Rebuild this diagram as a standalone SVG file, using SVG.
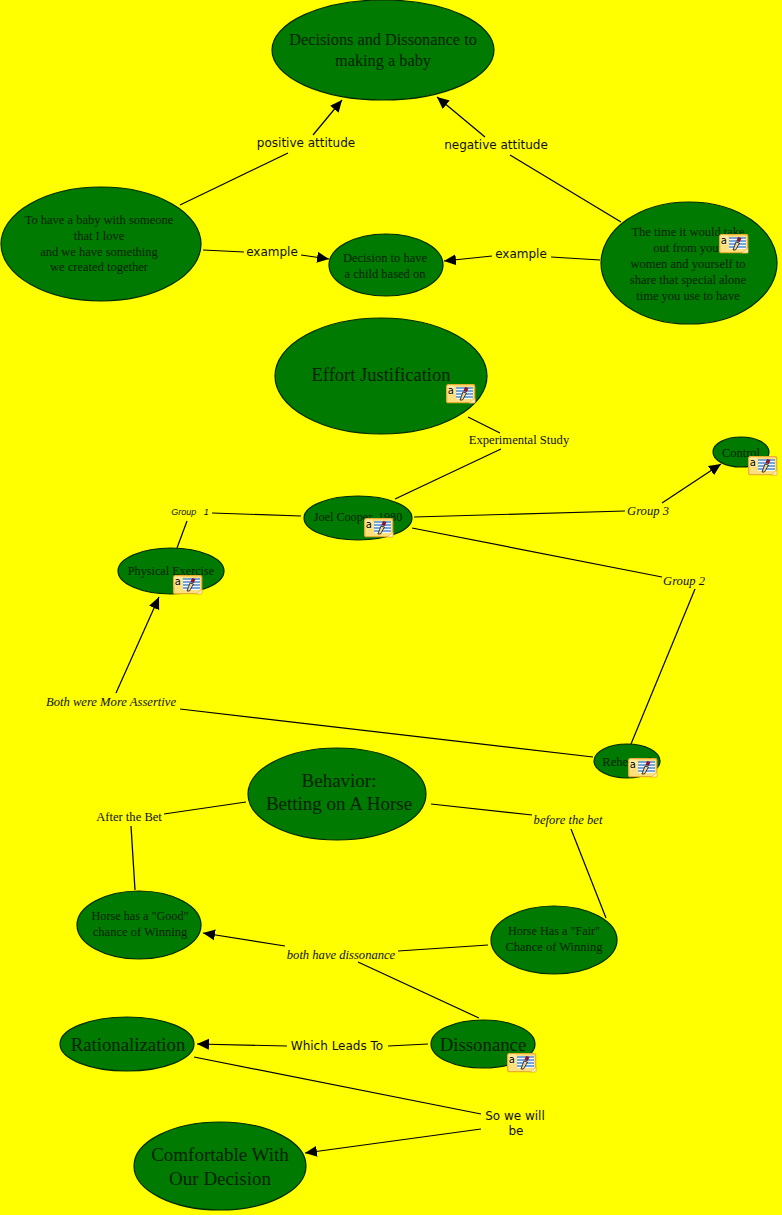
<svg xmlns="http://www.w3.org/2000/svg" width="782" height="1215" viewBox="0 0 782 1215">
<style>
.n{fill:#007a00;stroke:#002a00;stroke-width:1.200}
.t{font-family:"Liberation Serif","DejaVu Serif",serif;fill:#002200;text-anchor:middle}
.l{font-family:"DejaVu Sans",sans-serif;font-size:12px;fill:#111;text-anchor:middle}
.s{font-family:"Liberation Serif",serif;font-size:12.600px;fill:#111;text-anchor:middle}
.i{font-style:italic}
.a{font-family:"Liberation Sans",sans-serif;font-size:9px;font-style:italic;fill:#111;text-anchor:middle;white-space:pre}
.c line{stroke:#000;stroke-width:1.200}
.ar{stroke:#000;stroke-width:1.200;fill:none;marker-end:url(#ah)}
</style>
<defs>
<marker id="ah" markerUnits="userSpaceOnUse" markerWidth="13" markerHeight="12" refX="12" refY="6" orient="auto"><path d="M0 0.500L12 6L0 11.500z" fill="#000"/></marker>
<g id="ic">
<rect x="0.700" y="0.700" width="28" height="18" rx="1.500" fill="#ffe07c" stroke="#e8ae30" stroke-width="1.300"/>
<path d="M23 19L29 19L29 14z" fill="#fff4c8" stroke="#e8ae30" stroke-width=".7"/>
<rect x="1.500" y="1.500" width="7.500" height="9" fill="#ffe9a0"/>
<text x="4.800" y="9.500" font-family="DejaVu Sans,sans-serif" font-size="10" fill="#000" text-anchor="middle">a</text>
<rect x="10" y="3" width="17" height="12" fill="#f4f8ff"/>
<path d="M10 4H27M10 7H27M10 10H27M10 13H27" stroke="#4d8ccc" stroke-width="1.300"/>
<path d="M14 16L17 8L20.500 9L16.500 16z" fill="#f0d8a0" stroke="#111" stroke-width=".8"/>
<path d="M17.500 7L19 3L22.500 4L20.800 8z" fill="#8a1530"/>
</g>
</defs>
<rect width="782" height="1215" fill="#ffff00"/>
<g id="connectors" class="c">
<line x1="180" y1="205" x2="288" y2="153"/>
<path class="ar" d="M313 135L342 100"/>
<line x1="621" y1="222" x2="510" y2="155"/>
<path class="ar" d="M485 137L437 97"/>
<line x1="203" y1="250" x2="244" y2="252"/>
<path class="ar" d="M301 255L329 259"/>
<line x1="600" y1="260" x2="551" y2="257"/>
<path class="ar" d="M492 256L444 261"/>
<line x1="468" y1="417" x2="500" y2="433"/>
<line x1="395" y1="499" x2="501" y2="449"/>
<line x1="212" y1="513" x2="301" y2="516"/>
<line x1="187" y1="521" x2="177" y2="548"/>
<line x1="414" y1="517" x2="625" y2="511"/>
<path class="ar" d="M662 503L721 464"/>
<line x1="412" y1="528" x2="662" y2="577"/>
<line x1="695" y1="589" x2="631" y2="744"/>
<path class="ar" d="M116 693L159 597"/>
<line x1="180" y1="709" x2="593" y2="757"/>
<line x1="431" y1="804" x2="532" y2="815"/>
<line x1="571" y1="829" x2="606" y2="918"/>
<line x1="246" y1="802" x2="164" y2="814"/>
<line x1="131" y1="826" x2="135" y2="890"/>
<line x1="488" y1="945" x2="398" y2="951"/>
<path class="ar" d="M285 946L203 933"/>
<line x1="479" y1="1018" x2="358" y2="962"/>
<path class="ar" d="M287 1046L197 1044"/>
<line x1="428" y1="1044" x2="388" y2="1046"/>
<line x1="194" y1="1057" x2="481" y2="1114"/>
<path class="ar" d="M481 1129L305 1153"/>
</g>
<g id="n1"><ellipse class="n" cx="383" cy="50" rx="111" ry="50"/><text class="t" font-size="16.300" x="383" y="45">Decisions and Dissonance to</text><text class="t" font-size="16.300" x="383" y="66">making a baby</text></g>
<g id="n2"><ellipse class="n" cx="101" cy="244" rx="100" ry="57"/><text class="t" font-size="12.500" x="99" y="224">To have a baby with someone</text><text class="t" font-size="12.500" x="99" y="240">that I love</text><text class="t" font-size="12.500" x="99" y="256">and we have something</text><text class="t" font-size="12.500" x="99" y="271">we created together</text></g>
<g id="n3"><ellipse class="n" cx="386" cy="265" rx="57" ry="31"/><text class="t" font-size="12.500" x="385" y="262">Decision to have</text><text class="t" font-size="12.500" x="385" y="278">a child based on</text></g>
<g id="n4"><ellipse class="n" cx="689" cy="263" rx="88" ry="61"/><text class="t" font-size="12.500" x="688" y="236">The time it would take</text><text class="t" font-size="12.500" x="688" y="252">out from your</text><text class="t" font-size="12.500" x="688" y="268">women and yourself to</text><text class="t" font-size="12.500" x="688" y="284">share that special alone</text><text class="t" font-size="12.500" x="688" y="300">time you use to have</text><use href="#ic" x="719" y="234"/></g>
<g id="n5"><ellipse class="n" cx="381" cy="376" rx="106" ry="58"/><text class="t" font-size="18.500" x="381" y="381">Effort Justification</text><use href="#ic" x="446" y="384"/></g>
<g id="n6"><ellipse class="n" cx="741" cy="452" rx="28" ry="15"/><text class="t" font-size="12.500" x="741" y="457">Control</text><use href="#ic" x="748" y="456"/></g>
<g id="n7"><ellipse class="n" cx="358" cy="518" rx="54" ry="22"/><text class="t" font-size="12.200" x="358" y="521">Joel Cooper, 1980</text><use href="#ic" x="364" y="518"/></g>
<g id="n8"><ellipse class="n" cx="171" cy="571" rx="53" ry="23"/><text class="t" font-size="12.200" x="171" y="575">Physical Exercise</text><use href="#ic" x="173" y="575"/></g>
<g id="n9"><ellipse class="n" cx="627" cy="761" rx="33" ry="17"/><text class="t" font-size="12.500" x="627" y="766">Rehearsal</text><use href="#ic" x="628" y="758"/></g>
<g id="n10"><ellipse class="n" cx="337" cy="794" rx="89" ry="46"/><text class="t" font-size="19" x="339" y="787">Behavior:</text><text class="t" font-size="19" x="339" y="810">Betting on A Horse</text></g>
<g id="n11"><ellipse class="n" cx="139" cy="925" rx="62" ry="34"/><text class="t" font-size="12.200" x="140" y="920">Horse has a "Good"</text><text class="t" font-size="12.500" x="140" y="936">chance of Winning</text></g>
<g id="n12"><ellipse class="n" cx="554" cy="940" rx="63" ry="34"/><text class="t" font-size="12.200" x="554" y="935">Horse Has a "Fair"</text><text class="t" font-size="12.500" x="554" y="951">Chance of Winning</text></g>
<g id="n13"><ellipse class="n" cx="127" cy="1044" rx="67" ry="27"/><text class="t" font-size="18.800" x="128" y="1051">Rationalization</text></g>
<g id="n14"><ellipse class="n" cx="483" cy="1044" rx="52" ry="24"/><text class="t" font-size="18.800" x="483" y="1051">Dissonance</text><use href="#ic" x="507" y="1053"/></g>
<g id="n15"><ellipse class="n" cx="220" cy="1166" rx="86" ry="44"/><text class="t" font-size="19" x="220" y="1161">Comfortable With</text><text class="t" font-size="19" x="220" y="1185">Our Decision</text></g>
<g id="labels">
<text class="l" x="306" y="147">positive attitude</text>
<text class="l" x="496" y="149">negative attitude</text>
<text class="l" x="272" y="256">example</text>
<text class="l" x="521" y="258">example</text>
<text class="s" x="519" y="444">Experimental Study</text>
<text class="a" x="190" y="515">Group   1</text>
<text class="s i" x="648" y="515">Group 3</text>
<text class="s i" x="684" y="585">Group 2</text>
<text class="s i" x="111" y="706">Both were More Assertive</text>
<text class="s" x="129" y="821">After the Bet</text>
<text class="s i" x="568" y="824">before the bet</text>
<text class="s i" x="341" y="959">both have dissonance</text>
<text class="l" x="337" y="1050">Which Leads To</text>
<text class="l" x="515" y="1120">So we will</text>
<text class="l" x="516" y="1135">be</text>
</g>
</svg>
